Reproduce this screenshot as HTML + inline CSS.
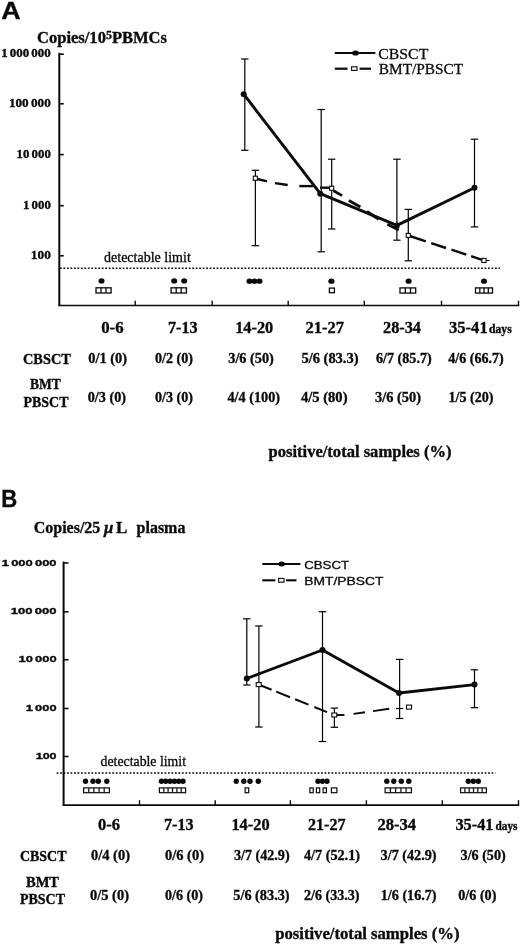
<!DOCTYPE html>
<html><head><meta charset="utf-8"><title>Figure</title>
<style>
html,body{margin:0;padding:0;background:#fff;}
svg{display:block;}
text{fill:#0a0a0a;white-space:pre;}
</style></head>
<body>
<svg width="520" height="944" viewBox="0 0 520 944">
<rect width="520" height="944" fill="#fff"/>
<text x="1.3" y="19.0" font-family='"Liberation Sans", sans-serif' font-size="23.6" font-weight="bold" stroke="#0a0a0a" stroke-width="0.35" textLength="19.4" lengthAdjust="spacingAndGlyphs">A</text>
<text x="37" y="43" font-family='"Liberation Serif", serif' font-size="17.3" font-weight="bold" stroke="#0a0a0a" stroke-width="0.35" textLength="130" lengthAdjust="spacingAndGlyphs">Copies/10<tspan font-size="12.5" dy="-4.3">5</tspan><tspan dy="4.3">PBMCs</tspan></text>
<line x1="59.3" y1="52.8" x2="59.3" y2="305.5" stroke="#0a0a0a" stroke-width="2"/>
<line x1="58.3" y1="305.5" x2="519.2" y2="305.5" stroke="#0a0a0a" stroke-width="1.7"/>
<line x1="59.3" y1="54.2" x2="63.8" y2="54.2" stroke="#0a0a0a" stroke-width="1.6"/>
<line x1="59.3" y1="103.8" x2="63.8" y2="103.8" stroke="#0a0a0a" stroke-width="1.6"/>
<line x1="59.3" y1="154.6" x2="63.8" y2="154.6" stroke="#0a0a0a" stroke-width="1.6"/>
<line x1="59.3" y1="205.7" x2="63.8" y2="205.7" stroke="#0a0a0a" stroke-width="1.6"/>
<line x1="59.3" y1="255.8" x2="63.8" y2="255.8" stroke="#0a0a0a" stroke-width="1.6"/>
<text x="1.2" y="57.4" font-family='"Liberation Serif", serif' font-size="13.2" font-weight="bold" stroke="#0a0a0a" stroke-width="0.35" textLength="49.6" lengthAdjust="spacingAndGlyphs">1 000 000</text>
<text x="8.9" y="107.0" font-family='"Liberation Serif", serif' font-size="13.2" font-weight="bold" stroke="#0a0a0a" stroke-width="0.35" textLength="41.9" lengthAdjust="spacingAndGlyphs">100 000</text>
<text x="16.6" y="157.8" font-family='"Liberation Serif", serif' font-size="13.2" font-weight="bold" stroke="#0a0a0a" stroke-width="0.35" textLength="34.2" lengthAdjust="spacingAndGlyphs">10 000</text>
<text x="23.0" y="208.9" font-family='"Liberation Serif", serif' font-size="13.2" font-weight="bold" stroke="#0a0a0a" stroke-width="0.35" textLength="27.8" lengthAdjust="spacingAndGlyphs">1 000</text>
<text x="30.8" y="259.0" font-family='"Liberation Serif", serif' font-size="13.2" font-weight="bold" stroke="#0a0a0a" stroke-width="0.35" textLength="20.0" lengthAdjust="spacingAndGlyphs">100</text>
<line x1="135.2" y1="305.5" x2="135.2" y2="300.8" stroke="#0a0a0a" stroke-width="1.4"/>
<line x1="212.2" y1="305.5" x2="212.2" y2="300.8" stroke="#0a0a0a" stroke-width="1.4"/>
<line x1="288.2" y1="305.5" x2="288.2" y2="300.8" stroke="#0a0a0a" stroke-width="1.4"/>
<line x1="364.3" y1="305.5" x2="364.3" y2="300.8" stroke="#0a0a0a" stroke-width="1.4"/>
<line x1="441.5" y1="305.5" x2="441.5" y2="300.8" stroke="#0a0a0a" stroke-width="1.4"/>
<line x1="518.5" y1="305.5" x2="518.5" y2="300.8" stroke="#0a0a0a" stroke-width="1.4"/>
<line x1="60.0" y1="268.2" x2="500.0" y2="268.2" stroke="#0a0a0a" stroke-width="1.6" stroke-dasharray="1.8 1.68"/>
<text x="104.0" y="262.0" font-family='"Liberation Serif", serif' font-size="14" font-weight="normal" stroke="#0a0a0a" stroke-width="0.3" textLength="86.8" lengthAdjust="spacingAndGlyphs">detectable limit</text>
<line x1="334.8" y1="53.0" x2="375.4" y2="53.0" stroke="#0a0a0a" stroke-width="2.2"/>
<ellipse cx="355.5" cy="53.0" rx="3.4" ry="2.6" fill="#0a0a0a"/>
<text x="378.3" y="58.5" font-family='"Liberation Serif", serif' font-size="15.3" font-weight="normal" stroke="#0a0a0a" stroke-width="0.3" textLength="50.0" lengthAdjust="spacingAndGlyphs">CBSCT</text>
<line x1="334.8" y1="68.7" x2="347.5" y2="68.7" stroke="#0a0a0a" stroke-width="2.2"/>
<line x1="359.6" y1="68.7" x2="371.0" y2="68.7" stroke="#0a0a0a" stroke-width="2.2"/>
<rect x="351.6" y="66.8" width="5.4" height="3.6" fill="#fff" stroke="#0a0a0a" stroke-width="1.1"/>
<text x="378.8" y="73.6" font-family='"Liberation Serif", serif' font-size="15.3" font-weight="normal" stroke="#0a0a0a" stroke-width="0.3" textLength="84.4" lengthAdjust="spacingAndGlyphs">BMT/PBSCT</text>
<line x1="244.8" y1="59.0" x2="244.8" y2="150.3" stroke="#0a0a0a" stroke-width="1.25"/>
<line x1="241.1" y1="59.0" x2="248.5" y2="59.0" stroke="#0a0a0a" stroke-width="1.25"/>
<line x1="241.1" y1="150.3" x2="248.5" y2="150.3" stroke="#0a0a0a" stroke-width="1.25"/>
<line x1="321.2" y1="109.5" x2="321.2" y2="251.8" stroke="#0a0a0a" stroke-width="1.25"/>
<line x1="317.5" y1="109.5" x2="324.9" y2="109.5" stroke="#0a0a0a" stroke-width="1.25"/>
<line x1="317.5" y1="251.8" x2="324.9" y2="251.8" stroke="#0a0a0a" stroke-width="1.25"/>
<line x1="396.9" y1="159.2" x2="396.9" y2="240.2" stroke="#0a0a0a" stroke-width="1.25"/>
<line x1="393.2" y1="159.2" x2="400.6" y2="159.2" stroke="#0a0a0a" stroke-width="1.25"/>
<line x1="393.2" y1="240.2" x2="400.6" y2="240.2" stroke="#0a0a0a" stroke-width="1.25"/>
<line x1="474.5" y1="139.2" x2="474.5" y2="226.9" stroke="#0a0a0a" stroke-width="1.25"/>
<line x1="470.8" y1="139.2" x2="478.2" y2="139.2" stroke="#0a0a0a" stroke-width="1.25"/>
<line x1="470.8" y1="226.9" x2="478.2" y2="226.9" stroke="#0a0a0a" stroke-width="1.25"/>
<line x1="255.4" y1="170.3" x2="255.4" y2="245.7" stroke="#0a0a0a" stroke-width="1.25"/>
<line x1="251.7" y1="170.3" x2="259.1" y2="170.3" stroke="#0a0a0a" stroke-width="1.25"/>
<line x1="251.7" y1="245.7" x2="259.1" y2="245.7" stroke="#0a0a0a" stroke-width="1.25"/>
<line x1="331.7" y1="159.2" x2="331.7" y2="229.0" stroke="#0a0a0a" stroke-width="1.25"/>
<line x1="328.0" y1="159.2" x2="335.4" y2="159.2" stroke="#0a0a0a" stroke-width="1.25"/>
<line x1="328.0" y1="229.0" x2="335.4" y2="229.0" stroke="#0a0a0a" stroke-width="1.25"/>
<line x1="408.3" y1="209.4" x2="408.3" y2="260.8" stroke="#0a0a0a" stroke-width="1.25"/>
<line x1="404.6" y1="209.4" x2="412.0" y2="209.4" stroke="#0a0a0a" stroke-width="1.25"/>
<line x1="404.6" y1="260.8" x2="412.0" y2="260.8" stroke="#0a0a0a" stroke-width="1.25"/>
<polyline fill="none" stroke="#0a0a0a" stroke-width="2.9" stroke-linejoin="round" points="243.7,94.2 320.3,193.7 396.9,225.4 474.5,187.8"/>
<line x1="255.4" y1="178.5" x2="267.0" y2="181.3" stroke="#0a0a0a" stroke-width="2.4"/>
<line x1="275.0" y1="183.1" x2="287.7" y2="185.0" stroke="#0a0a0a" stroke-width="2.4"/>
<line x1="299.3" y1="186.1" x2="313.1" y2="186.1" stroke="#0a0a0a" stroke-width="2.4"/>
<line x1="320.0" y1="187.7" x2="329.0" y2="187.7" stroke="#0a0a0a" stroke-width="2.4"/>
<line x1="333.5" y1="190.8" x2="342.1" y2="195.6" stroke="#0a0a0a" stroke-width="2.8"/>
<line x1="348.8" y1="200.6" x2="360.4" y2="206.9" stroke="#0a0a0a" stroke-width="2.8"/>
<line x1="367.1" y1="211.5" x2="378.7" y2="219.3" stroke="#0a0a0a" stroke-width="2.8"/>
<line x1="387.3" y1="224.3" x2="398.8" y2="230.0" stroke="#0a0a0a" stroke-width="2.8"/>
<line x1="408.3" y1="235.5" x2="425.8" y2="241.3" stroke="#0a0a0a" stroke-width="2.4"/>
<line x1="431.2" y1="243.1" x2="446.0" y2="248.0" stroke="#0a0a0a" stroke-width="2.4"/>
<line x1="451.4" y1="249.7" x2="466.3" y2="254.7" stroke="#0a0a0a" stroke-width="2.4"/>
<line x1="471.1" y1="256.2" x2="482.0" y2="259.8" stroke="#0a0a0a" stroke-width="2.4"/>
<circle cx="243.7" cy="94.2" r="3" fill="#0a0a0a"/>
<circle cx="320.3" cy="193.7" r="3" fill="#0a0a0a"/>
<circle cx="396.9" cy="225.4" r="3" fill="#0a0a0a"/>
<circle cx="474.5" cy="187.8" r="3" fill="#0a0a0a"/>
<line x1="486.0" y1="260.5" x2="489.5" y2="260.5" stroke="#0a0a0a" stroke-width="1"/>
<rect x="253.3" y="176.2" width="4.1" height="4.1" fill="#fff" stroke="#0a0a0a" stroke-width="1.1"/>
<rect x="329.6" y="186.2" width="4.1" height="4.1" fill="#fff" stroke="#0a0a0a" stroke-width="1.1"/>
<rect x="406.2" y="233.4" width="4.1" height="4.1" fill="#fff" stroke="#0a0a0a" stroke-width="1.1"/>
<rect x="481.9" y="258.4" width="4.1" height="4.1" fill="#fff" stroke="#0a0a0a" stroke-width="1.1"/>
<ellipse cx="101.5" cy="280.9" rx="3" ry="2.6" fill="#0a0a0a"/>
<rect x="96.0" y="287.8" width="15.1" height="5.2" fill="#fff" stroke="#0a0a0a" stroke-width="1.3"/>
<line x1="101.0" y1="287.8" x2="101.0" y2="293.0" stroke="#0a0a0a" stroke-width="1.3"/>
<line x1="106.0" y1="287.8" x2="106.0" y2="293.0" stroke="#0a0a0a" stroke-width="1.3"/>
<ellipse cx="174.2" cy="280.9" rx="3" ry="2.6" fill="#0a0a0a"/>
<ellipse cx="184.2" cy="280.9" rx="3" ry="2.6" fill="#0a0a0a"/>
<rect x="171.1" y="287.8" width="15.3" height="5.2" fill="#fff" stroke="#0a0a0a" stroke-width="1.3"/>
<line x1="176.2" y1="287.8" x2="176.2" y2="293.0" stroke="#0a0a0a" stroke-width="1.3"/>
<line x1="181.2" y1="287.8" x2="181.2" y2="293.0" stroke="#0a0a0a" stroke-width="1.3"/>
<ellipse cx="249.5" cy="281.2" rx="3" ry="2.6" fill="#0a0a0a"/>
<ellipse cx="254.5" cy="281.2" rx="3" ry="2.6" fill="#0a0a0a"/>
<ellipse cx="259.5" cy="281.2" rx="3" ry="2.6" fill="#0a0a0a"/>
<ellipse cx="331.4" cy="281.2" rx="3.1" ry="2.6" fill="#0a0a0a"/>
<rect x="329.4" y="288.1" width="5" height="4.6" fill="#fff" stroke="#0a0a0a" stroke-width="1.3"/>
<ellipse cx="408.6" cy="281.2" rx="3" ry="2.6" fill="#0a0a0a"/>
<rect x="400.0" y="287.9" width="15.7" height="5.2" fill="#fff" stroke="#0a0a0a" stroke-width="1.3"/>
<line x1="405.3" y1="287.9" x2="405.3" y2="293.1" stroke="#0a0a0a" stroke-width="1.3"/>
<line x1="410.5" y1="287.9" x2="410.5" y2="293.1" stroke="#0a0a0a" stroke-width="1.3"/>
<ellipse cx="484.0" cy="281.2" rx="3" ry="2.6" fill="#0a0a0a"/>
<rect x="475.5" y="287.9" width="17.0" height="5.2" fill="#fff" stroke="#0a0a0a" stroke-width="1.3"/>
<line x1="479.8" y1="287.9" x2="479.8" y2="293.1" stroke="#0a0a0a" stroke-width="1.3"/>
<line x1="484.0" y1="287.9" x2="484.0" y2="293.1" stroke="#0a0a0a" stroke-width="1.3"/>
<line x1="488.3" y1="287.9" x2="488.3" y2="293.1" stroke="#0a0a0a" stroke-width="1.3"/>
<text x="101.2" y="332.8" font-family='"Liberation Serif", serif' font-size="17" font-weight="bold" stroke="#0a0a0a" stroke-width="0.35" textLength="22.4" lengthAdjust="spacingAndGlyphs">0-6</text>
<text x="168.0" y="332.8" font-family='"Liberation Serif", serif' font-size="17" font-weight="bold" stroke="#0a0a0a" stroke-width="0.35" textLength="29.6" lengthAdjust="spacingAndGlyphs">7-13</text>
<text x="235.2" y="332.8" font-family='"Liberation Serif", serif' font-size="17" font-weight="bold" stroke="#0a0a0a" stroke-width="0.35" textLength="38.1" lengthAdjust="spacingAndGlyphs">14-20</text>
<text x="305.5" y="332.8" font-family='"Liberation Serif", serif' font-size="17" font-weight="bold" stroke="#0a0a0a" stroke-width="0.35" textLength="38.5" lengthAdjust="spacingAndGlyphs">21-27</text>
<text x="383.0" y="332.8" font-family='"Liberation Serif", serif' font-size="17" font-weight="bold" stroke="#0a0a0a" stroke-width="0.35" textLength="38.0" lengthAdjust="spacingAndGlyphs">28-34</text>
<text x="449.0" y="332.8" font-family='"Liberation Serif", serif' font-size="17" font-weight="bold" stroke="#0a0a0a" stroke-width="0.35" textLength="38.7" lengthAdjust="spacingAndGlyphs">35-41</text>
<text x="489.0" y="332.8" font-family='"Liberation Serif", serif' font-size="11.5" font-weight="bold" stroke="#0a0a0a" stroke-width="0.35" textLength="22.7" lengthAdjust="spacingAndGlyphs">days</text>
<text x="23.0" y="363.8" font-family='"Liberation Serif", serif' font-size="15.5" font-weight="bold" stroke="#0a0a0a" stroke-width="0.35" textLength="47.8" lengthAdjust="spacingAndGlyphs">CBSCT</text>
<text x="30.0" y="389.3" font-family='"Liberation Serif", serif' font-size="15.5" font-weight="bold" stroke="#0a0a0a" stroke-width="0.35" textLength="30.8" lengthAdjust="spacingAndGlyphs">BMT</text>
<text x="23.5" y="406.8" font-family='"Liberation Serif", serif' font-size="15.5" font-weight="bold" stroke="#0a0a0a" stroke-width="0.35" textLength="45.0" lengthAdjust="spacingAndGlyphs">PBSCT</text>
<text x="88.3" y="362.8" font-family='"Liberation Serif", serif' font-size="15" font-weight="bold" stroke="#0a0a0a" stroke-width="0.35" textLength="38.7" lengthAdjust="spacingAndGlyphs">0/1 (0)</text>
<text x="155.0" y="362.8" font-family='"Liberation Serif", serif' font-size="15" font-weight="bold" stroke="#0a0a0a" stroke-width="0.35" textLength="38.0" lengthAdjust="spacingAndGlyphs">0/2 (0)</text>
<text x="228.3" y="362.8" font-family='"Liberation Serif", serif' font-size="15" font-weight="bold" stroke="#0a0a0a" stroke-width="0.35" textLength="45.5" lengthAdjust="spacingAndGlyphs">3/6 (50)</text>
<text x="301.5" y="362.8" font-family='"Liberation Serif", serif' font-size="15" font-weight="bold" stroke="#0a0a0a" stroke-width="0.35" textLength="57.0" lengthAdjust="spacingAndGlyphs">5/6 (83.3)</text>
<text x="376.0" y="362.8" font-family='"Liberation Serif", serif' font-size="15" font-weight="bold" stroke="#0a0a0a" stroke-width="0.35" textLength="55.7" lengthAdjust="spacingAndGlyphs">6/7 (85.7)</text>
<text x="448.3" y="362.8" font-family='"Liberation Serif", serif' font-size="15" font-weight="bold" stroke="#0a0a0a" stroke-width="0.35" textLength="55.4" lengthAdjust="spacingAndGlyphs">4/6 (66.7)</text>
<text x="87.7" y="402.0" font-family='"Liberation Serif", serif' font-size="15" font-weight="bold" stroke="#0a0a0a" stroke-width="0.35" textLength="38.3" lengthAdjust="spacingAndGlyphs">0/3 (0)</text>
<text x="155.0" y="402.0" font-family='"Liberation Serif", serif' font-size="15" font-weight="bold" stroke="#0a0a0a" stroke-width="0.35" textLength="38.0" lengthAdjust="spacingAndGlyphs">0/3 (0)</text>
<text x="227.5" y="402.0" font-family='"Liberation Serif", serif' font-size="15" font-weight="bold" stroke="#0a0a0a" stroke-width="0.35" textLength="52.5" lengthAdjust="spacingAndGlyphs">4/4 (100)</text>
<text x="301.0" y="402.0" font-family='"Liberation Serif", serif' font-size="15" font-weight="bold" stroke="#0a0a0a" stroke-width="0.35" textLength="46.5" lengthAdjust="spacingAndGlyphs">4/5 (80)</text>
<text x="375.0" y="402.0" font-family='"Liberation Serif", serif' font-size="15" font-weight="bold" stroke="#0a0a0a" stroke-width="0.35" textLength="46.0" lengthAdjust="spacingAndGlyphs">3/6 (50)</text>
<text x="448.5" y="402.0" font-family='"Liberation Serif", serif' font-size="15" font-weight="bold" stroke="#0a0a0a" stroke-width="0.35" textLength="45.0" lengthAdjust="spacingAndGlyphs">1/5 (20)</text>
<text x="268.5" y="457.0" font-family='"Liberation Serif", serif' font-size="16.5" font-weight="bold" stroke="#0a0a0a" stroke-width="0.35" textLength="183.0" lengthAdjust="spacingAndGlyphs">positive/total samples (%)</text>
<text x="1.2" y="507.0" font-family='"Liberation Sans", sans-serif' font-size="23" font-weight="bold" stroke="#0a0a0a" stroke-width="0.35" textLength="16.0" lengthAdjust="spacingAndGlyphs">B</text>
<text x="33.8" y="532.7" font-family='"Liberation Serif", serif' font-size="17.3" font-weight="bold" stroke="#0a0a0a" stroke-width="0.35" textLength="66.5" lengthAdjust="spacingAndGlyphs">Copies/25</text>
<text x="104.0" y="532.7" font-family='"Liberation Serif", serif' font-size="17.3" font-weight="bold" stroke="#0a0a0a" stroke-width="0.35" textLength="9.4" lengthAdjust="spacingAndGlyphs" font-style="italic">μ</text>
<text x="115.9" y="532.7" font-family='"Liberation Serif", serif' font-size="17.3" font-weight="bold" stroke="#0a0a0a" stroke-width="0.35" textLength="11.4" lengthAdjust="spacingAndGlyphs">L</text>
<text x="136.6" y="532.7" font-family='"Liberation Serif", serif' font-size="17.3" font-weight="bold" stroke="#0a0a0a" stroke-width="0.35" textLength="48.8" lengthAdjust="spacingAndGlyphs">plasma</text>
<line x1="63.6" y1="561.6" x2="63.6" y2="805.1" stroke="#0a0a0a" stroke-width="2"/>
<line x1="62.6" y1="805.1" x2="519.2" y2="805.1" stroke="#0a0a0a" stroke-width="1.6"/>
<line x1="63.6" y1="563.0" x2="68.5" y2="563.0" stroke="#0a0a0a" stroke-width="1.6"/>
<line x1="63.6" y1="611.8" x2="68.5" y2="611.8" stroke="#0a0a0a" stroke-width="1.6"/>
<line x1="63.6" y1="659.7" x2="68.5" y2="659.7" stroke="#0a0a0a" stroke-width="1.6"/>
<line x1="63.6" y1="708.5" x2="68.5" y2="708.5" stroke="#0a0a0a" stroke-width="1.6"/>
<line x1="63.6" y1="756.5" x2="68.5" y2="756.5" stroke="#0a0a0a" stroke-width="1.6"/>
<text x="1.8" y="565.6" font-family='"Liberation Sans", sans-serif' font-size="9.7" font-weight="bold" stroke="#0a0a0a" stroke-width="0.35" textLength="54.8" lengthAdjust="spacingAndGlyphs">1 000 000</text>
<text x="10.8" y="614.4" font-family='"Liberation Sans", sans-serif' font-size="9.7" font-weight="bold" stroke="#0a0a0a" stroke-width="0.35" textLength="45.8" lengthAdjust="spacingAndGlyphs">100 000</text>
<text x="18.5" y="662.3" font-family='"Liberation Sans", sans-serif' font-size="9.7" font-weight="bold" stroke="#0a0a0a" stroke-width="0.35" textLength="38.1" lengthAdjust="spacingAndGlyphs">10 000</text>
<text x="25.8" y="711.1" font-family='"Liberation Sans", sans-serif' font-size="9.7" font-weight="bold" stroke="#0a0a0a" stroke-width="0.35" textLength="30.8" lengthAdjust="spacingAndGlyphs">1 000</text>
<text x="35.7" y="759.1" font-family='"Liberation Sans", sans-serif' font-size="9.7" font-weight="bold" stroke="#0a0a0a" stroke-width="0.35" textLength="20.9" lengthAdjust="spacingAndGlyphs">100</text>
<line x1="139.5" y1="805.1" x2="139.5" y2="800.2" stroke="#0a0a0a" stroke-width="1.4"/>
<line x1="215.2" y1="805.1" x2="215.2" y2="800.2" stroke="#0a0a0a" stroke-width="1.4"/>
<line x1="290.4" y1="805.1" x2="290.4" y2="800.2" stroke="#0a0a0a" stroke-width="1.4"/>
<line x1="366.4" y1="805.1" x2="366.4" y2="800.2" stroke="#0a0a0a" stroke-width="1.4"/>
<line x1="442.3" y1="805.1" x2="442.3" y2="800.2" stroke="#0a0a0a" stroke-width="1.4"/>
<line x1="518.5" y1="805.1" x2="518.5" y2="800.2" stroke="#0a0a0a" stroke-width="1.4"/>
<line x1="56.6" y1="773.0" x2="495.5" y2="773.0" stroke="#0a0a0a" stroke-width="1.5" stroke-dasharray="1.8 1.68"/>
<text x="100.6" y="766.0" font-family='"Liberation Serif", serif' font-size="14" font-weight="normal" stroke="#0a0a0a" stroke-width="0.3" textLength="85.4" lengthAdjust="spacingAndGlyphs">detectable limit</text>
<line x1="262.3" y1="564.0" x2="300.4" y2="564.0" stroke="#0a0a0a" stroke-width="2.1"/>
<ellipse cx="281.6" cy="564.0" rx="3.3" ry="2.5" fill="#0a0a0a"/>
<text x="304.3" y="568.7" font-family='"Liberation Sans", sans-serif' font-size="11.3" font-weight="normal" stroke="#0a0a0a" stroke-width="0.3" textLength="44.7" lengthAdjust="spacingAndGlyphs">CBSCT</text>
<line x1="262.3" y1="580.3" x2="275.4" y2="580.3" stroke="#0a0a0a" stroke-width="2.1"/>
<line x1="286.0" y1="580.3" x2="296.5" y2="580.3" stroke="#0a0a0a" stroke-width="2.1"/>
<rect x="278.6" y="578.4" width="5.4" height="3.8" fill="#fff" stroke="#0a0a0a" stroke-width="1.1"/>
<text x="304.3" y="584.6" font-family='"Liberation Sans", sans-serif' font-size="11.3" font-weight="normal" stroke="#0a0a0a" stroke-width="0.3" textLength="79.2" lengthAdjust="spacingAndGlyphs">BMT/PBSCT</text>
<line x1="246.8" y1="618.8" x2="246.8" y2="685.0" stroke="#0a0a0a" stroke-width="1.25"/>
<line x1="243.1" y1="618.8" x2="250.5" y2="618.8" stroke="#0a0a0a" stroke-width="1.25"/>
<line x1="243.1" y1="685.0" x2="250.5" y2="685.0" stroke="#0a0a0a" stroke-width="1.25"/>
<line x1="322.5" y1="611.7" x2="322.5" y2="741.5" stroke="#0a0a0a" stroke-width="1.25"/>
<line x1="318.8" y1="611.7" x2="326.2" y2="611.7" stroke="#0a0a0a" stroke-width="1.25"/>
<line x1="318.8" y1="741.5" x2="326.2" y2="741.5" stroke="#0a0a0a" stroke-width="1.25"/>
<line x1="399.6" y1="659.4" x2="399.6" y2="718.5" stroke="#0a0a0a" stroke-width="1.25"/>
<line x1="395.9" y1="659.4" x2="403.3" y2="659.4" stroke="#0a0a0a" stroke-width="1.25"/>
<line x1="395.9" y1="718.5" x2="403.3" y2="718.5" stroke="#0a0a0a" stroke-width="1.25"/>
<line x1="474.5" y1="669.8" x2="474.5" y2="707.7" stroke="#0a0a0a" stroke-width="1.25"/>
<line x1="470.8" y1="669.8" x2="478.2" y2="669.8" stroke="#0a0a0a" stroke-width="1.25"/>
<line x1="470.8" y1="707.7" x2="478.2" y2="707.7" stroke="#0a0a0a" stroke-width="1.25"/>
<line x1="396.0" y1="708.5" x2="403.3" y2="708.5" stroke="#0a0a0a" stroke-width="1.2"/>
<line x1="258.9" y1="626.0" x2="258.9" y2="727.0" stroke="#0a0a0a" stroke-width="1.25"/>
<line x1="255.2" y1="626.0" x2="262.6" y2="626.0" stroke="#0a0a0a" stroke-width="1.25"/>
<line x1="255.2" y1="727.0" x2="262.6" y2="727.0" stroke="#0a0a0a" stroke-width="1.25"/>
<line x1="334.4" y1="708.1" x2="334.4" y2="727.3" stroke="#0a0a0a" stroke-width="1.25"/>
<line x1="330.7" y1="708.1" x2="338.1" y2="708.1" stroke="#0a0a0a" stroke-width="1.25"/>
<line x1="330.7" y1="727.3" x2="338.1" y2="727.3" stroke="#0a0a0a" stroke-width="1.25"/>
<polyline fill="none" stroke="#0a0a0a" stroke-width="2.9" stroke-linejoin="round" points="246.8,678.5 322.5,650 399,693 474.5,684.6"/>
<line x1="259.0" y1="684.7" x2="271.6" y2="689.8" stroke="#0a0a0a" stroke-width="2.0"/>
<line x1="276.2" y1="691.6" x2="290.0" y2="697.2" stroke="#0a0a0a" stroke-width="2.0"/>
<line x1="295.1" y1="699.2" x2="308.5" y2="704.6" stroke="#0a0a0a" stroke-width="2.0"/>
<line x1="314.3" y1="707.0" x2="327.0" y2="712.1" stroke="#0a0a0a" stroke-width="2.0"/>
<line x1="336.0" y1="715.0" x2="344.5" y2="715.0" stroke="#0a0a0a" stroke-width="1.9"/>
<line x1="353.5" y1="713.9" x2="365.0" y2="712.3" stroke="#0a0a0a" stroke-width="1.9"/>
<line x1="373.0" y1="711.1" x2="389.3" y2="708.8" stroke="#0a0a0a" stroke-width="1.9"/>
<circle cx="246.8" cy="678.5" r="3" fill="#0a0a0a"/>
<circle cx="322.5" cy="650.0" r="3" fill="#0a0a0a"/>
<circle cx="399.0" cy="693.0" r="3" fill="#0a0a0a"/>
<circle cx="474.5" cy="684.6" r="3" fill="#0a0a0a"/>
<rect x="256.2" y="682.6" width="5" height="4" fill="#fff" stroke="#0a0a0a" stroke-width="1.1"/>
<rect x="331.8" y="713.0" width="5" height="4" fill="#fff" stroke="#0a0a0a" stroke-width="1.1"/>
<rect x="406.5" y="705.1" width="5" height="4" fill="#fff" stroke="#0a0a0a" stroke-width="1.1"/>
<circle cx="85.5" cy="781.2" r="2.7" fill="#0a0a0a"/>
<circle cx="93.0" cy="781.2" r="2.7" fill="#0a0a0a"/>
<circle cx="98.3" cy="781.2" r="2.7" fill="#0a0a0a"/>
<circle cx="106.8" cy="781.2" r="2.7" fill="#0a0a0a"/>
<rect x="83.6" y="787.9" width="25.8" height="4.8" fill="#fff" stroke="#0a0a0a" stroke-width="1.2"/>
<line x1="88.8" y1="787.9" x2="88.8" y2="792.7" stroke="#0a0a0a" stroke-width="1.2"/>
<line x1="93.9" y1="787.9" x2="93.9" y2="792.7" stroke="#0a0a0a" stroke-width="1.2"/>
<line x1="99.1" y1="787.9" x2="99.1" y2="792.7" stroke="#0a0a0a" stroke-width="1.2"/>
<line x1="104.2" y1="787.9" x2="104.2" y2="792.7" stroke="#0a0a0a" stroke-width="1.2"/>
<circle cx="161.5" cy="781.2" r="2.7" fill="#0a0a0a"/>
<circle cx="165.8" cy="781.2" r="2.7" fill="#0a0a0a"/>
<circle cx="170.1" cy="781.2" r="2.7" fill="#0a0a0a"/>
<circle cx="174.4" cy="781.2" r="2.7" fill="#0a0a0a"/>
<circle cx="178.7" cy="781.2" r="2.7" fill="#0a0a0a"/>
<circle cx="183.0" cy="781.2" r="2.7" fill="#0a0a0a"/>
<rect x="159.4" y="787.9" width="26.2" height="4.8" fill="#fff" stroke="#0a0a0a" stroke-width="1.2"/>
<line x1="163.8" y1="787.9" x2="163.8" y2="792.7" stroke="#0a0a0a" stroke-width="1.2"/>
<line x1="168.1" y1="787.9" x2="168.1" y2="792.7" stroke="#0a0a0a" stroke-width="1.2"/>
<line x1="172.5" y1="787.9" x2="172.5" y2="792.7" stroke="#0a0a0a" stroke-width="1.2"/>
<line x1="176.9" y1="787.9" x2="176.9" y2="792.7" stroke="#0a0a0a" stroke-width="1.2"/>
<line x1="181.2" y1="787.9" x2="181.2" y2="792.7" stroke="#0a0a0a" stroke-width="1.2"/>
<circle cx="236.3" cy="781.2" r="2.7" fill="#0a0a0a"/>
<circle cx="243.8" cy="781.2" r="2.7" fill="#0a0a0a"/>
<circle cx="250.0" cy="781.2" r="2.7" fill="#0a0a0a"/>
<circle cx="258.3" cy="781.2" r="2.7" fill="#0a0a0a"/>
<rect x="245.1" y="787.9" width="3.6" height="4.8" fill="#fff" stroke="#0a0a0a" stroke-width="1.2"/>
<circle cx="318.0" cy="781.2" r="2.7" fill="#0a0a0a"/>
<circle cx="322.5" cy="781.2" r="2.7" fill="#0a0a0a"/>
<circle cx="327.0" cy="781.2" r="2.7" fill="#0a0a0a"/>
<rect x="309.9" y="787.9" width="3.3" height="4.8" fill="#fff" stroke="#0a0a0a" stroke-width="1.2"/>
<rect x="316.4" y="787.9" width="3.3" height="4.8" fill="#fff" stroke="#0a0a0a" stroke-width="1.2"/>
<rect x="323.1" y="787.9" width="3.3" height="4.8" fill="#fff" stroke="#0a0a0a" stroke-width="1.2"/>
<rect x="331.4" y="787.9" width="5.4999999999999885" height="4.8" fill="#fff" stroke="#0a0a0a" stroke-width="1.2"/>
<circle cx="386.8" cy="781.2" r="2.7" fill="#0a0a0a"/>
<circle cx="393.8" cy="781.2" r="2.7" fill="#0a0a0a"/>
<circle cx="401.3" cy="781.2" r="2.7" fill="#0a0a0a"/>
<circle cx="408.8" cy="781.2" r="2.7" fill="#0a0a0a"/>
<rect x="385.1" y="787.9" width="26.3" height="4.8" fill="#fff" stroke="#0a0a0a" stroke-width="1.2"/>
<line x1="390.4" y1="787.9" x2="390.4" y2="792.7" stroke="#0a0a0a" stroke-width="1.2"/>
<line x1="395.6" y1="787.9" x2="395.6" y2="792.7" stroke="#0a0a0a" stroke-width="1.2"/>
<line x1="400.9" y1="787.9" x2="400.9" y2="792.7" stroke="#0a0a0a" stroke-width="1.2"/>
<line x1="406.1" y1="787.9" x2="406.1" y2="792.7" stroke="#0a0a0a" stroke-width="1.2"/>
<circle cx="468.3" cy="781.2" r="2.7" fill="#0a0a0a"/>
<circle cx="473.3" cy="781.2" r="2.7" fill="#0a0a0a"/>
<circle cx="478.3" cy="781.2" r="2.7" fill="#0a0a0a"/>
<rect x="460.6" y="787.9" width="25.8" height="4.8" fill="#fff" stroke="#0a0a0a" stroke-width="1.2"/>
<line x1="464.9" y1="787.9" x2="464.9" y2="792.7" stroke="#0a0a0a" stroke-width="1.2"/>
<line x1="469.2" y1="787.9" x2="469.2" y2="792.7" stroke="#0a0a0a" stroke-width="1.2"/>
<line x1="473.5" y1="787.9" x2="473.5" y2="792.7" stroke="#0a0a0a" stroke-width="1.2"/>
<line x1="477.8" y1="787.9" x2="477.8" y2="792.7" stroke="#0a0a0a" stroke-width="1.2"/>
<line x1="482.1" y1="787.9" x2="482.1" y2="792.7" stroke="#0a0a0a" stroke-width="1.2"/>
<text x="98.0" y="830.3" font-family='"Liberation Serif", serif' font-size="17" font-weight="bold" stroke="#0a0a0a" stroke-width="0.35" textLength="22.0" lengthAdjust="spacingAndGlyphs">0-6</text>
<text x="164.0" y="830.3" font-family='"Liberation Serif", serif' font-size="17" font-weight="bold" stroke="#0a0a0a" stroke-width="0.35" textLength="29.5" lengthAdjust="spacingAndGlyphs">7-13</text>
<text x="231.4" y="830.3" font-family='"Liberation Serif", serif' font-size="17" font-weight="bold" stroke="#0a0a0a" stroke-width="0.35" textLength="38.2" lengthAdjust="spacingAndGlyphs">14-20</text>
<text x="308.0" y="830.3" font-family='"Liberation Serif", serif' font-size="17" font-weight="bold" stroke="#0a0a0a" stroke-width="0.35" textLength="37.5" lengthAdjust="spacingAndGlyphs">21-27</text>
<text x="377.4" y="830.3" font-family='"Liberation Serif", serif' font-size="17" font-weight="bold" stroke="#0a0a0a" stroke-width="0.35" textLength="38.8" lengthAdjust="spacingAndGlyphs">28-34</text>
<text x="455.4" y="830.3" font-family='"Liberation Serif", serif' font-size="17" font-weight="bold" stroke="#0a0a0a" stroke-width="0.35" textLength="38.1" lengthAdjust="spacingAndGlyphs">35-41</text>
<text x="495.5" y="830.3" font-family='"Liberation Serif", serif' font-size="11.5" font-weight="bold" stroke="#0a0a0a" stroke-width="0.35" textLength="22.0" lengthAdjust="spacingAndGlyphs">days</text>
<text x="20.0" y="861.2" font-family='"Liberation Serif", serif' font-size="15" font-weight="bold" stroke="#0a0a0a" stroke-width="0.35" textLength="46.5" lengthAdjust="spacingAndGlyphs">CBSCT</text>
<text x="26.0" y="887.0" font-family='"Liberation Serif", serif' font-size="15" font-weight="bold" stroke="#0a0a0a" stroke-width="0.35" textLength="33.0" lengthAdjust="spacingAndGlyphs">BMT</text>
<text x="20.0" y="903.5" font-family='"Liberation Serif", serif' font-size="15" font-weight="bold" stroke="#0a0a0a" stroke-width="0.35" textLength="45.0" lengthAdjust="spacingAndGlyphs">PBSCT</text>
<text x="91.0" y="860.0" font-family='"Liberation Serif", serif' font-size="15" font-weight="bold" stroke="#0a0a0a" stroke-width="0.35" textLength="39.0" lengthAdjust="spacingAndGlyphs">0/4 (0)</text>
<text x="165.0" y="860.0" font-family='"Liberation Serif", serif' font-size="15" font-weight="bold" stroke="#0a0a0a" stroke-width="0.35" textLength="39.0" lengthAdjust="spacingAndGlyphs">0/6 (0)</text>
<text x="234.0" y="860.0" font-family='"Liberation Serif", serif' font-size="15" font-weight="bold" stroke="#0a0a0a" stroke-width="0.35" textLength="55.6" lengthAdjust="spacingAndGlyphs">3/7 (42.9)</text>
<text x="304.0" y="860.0" font-family='"Liberation Serif", serif' font-size="15" font-weight="bold" stroke="#0a0a0a" stroke-width="0.35" textLength="56.0" lengthAdjust="spacingAndGlyphs">4/7 (52.1)</text>
<text x="380.6" y="860.0" font-family='"Liberation Serif", serif' font-size="15" font-weight="bold" stroke="#0a0a0a" stroke-width="0.35" textLength="56.0" lengthAdjust="spacingAndGlyphs">3/7 (42.9)</text>
<text x="460.6" y="860.0" font-family='"Liberation Serif", serif' font-size="15" font-weight="bold" stroke="#0a0a0a" stroke-width="0.35" textLength="45.1" lengthAdjust="spacingAndGlyphs">3/6 (50)</text>
<text x="90.0" y="899.8" font-family='"Liberation Serif", serif' font-size="15" font-weight="bold" stroke="#0a0a0a" stroke-width="0.35" textLength="39.0" lengthAdjust="spacingAndGlyphs">0/5 (0)</text>
<text x="165.0" y="899.8" font-family='"Liberation Serif", serif' font-size="15" font-weight="bold" stroke="#0a0a0a" stroke-width="0.35" textLength="38.0" lengthAdjust="spacingAndGlyphs">0/6 (0)</text>
<text x="233.3" y="899.8" font-family='"Liberation Serif", serif' font-size="15" font-weight="bold" stroke="#0a0a0a" stroke-width="0.35" textLength="56.3" lengthAdjust="spacingAndGlyphs">5/6 (83.3)</text>
<text x="304.0" y="899.8" font-family='"Liberation Serif", serif' font-size="15" font-weight="bold" stroke="#0a0a0a" stroke-width="0.35" textLength="55.5" lengthAdjust="spacingAndGlyphs">2/6 (33.3)</text>
<text x="380.8" y="899.8" font-family='"Liberation Serif", serif' font-size="15" font-weight="bold" stroke="#0a0a0a" stroke-width="0.35" textLength="55.8" lengthAdjust="spacingAndGlyphs">1/6 (16.7)</text>
<text x="458.3" y="899.8" font-family='"Liberation Serif", serif' font-size="15" font-weight="bold" stroke="#0a0a0a" stroke-width="0.35" textLength="38.1" lengthAdjust="spacingAndGlyphs">0/6 (0)</text>
<text x="275.2" y="938.7" font-family='"Liberation Serif", serif' font-size="16.5" font-weight="bold" stroke="#0a0a0a" stroke-width="0.35" textLength="184.3" lengthAdjust="spacingAndGlyphs">positive/total samples (%)</text>
</svg>
</body></html>
